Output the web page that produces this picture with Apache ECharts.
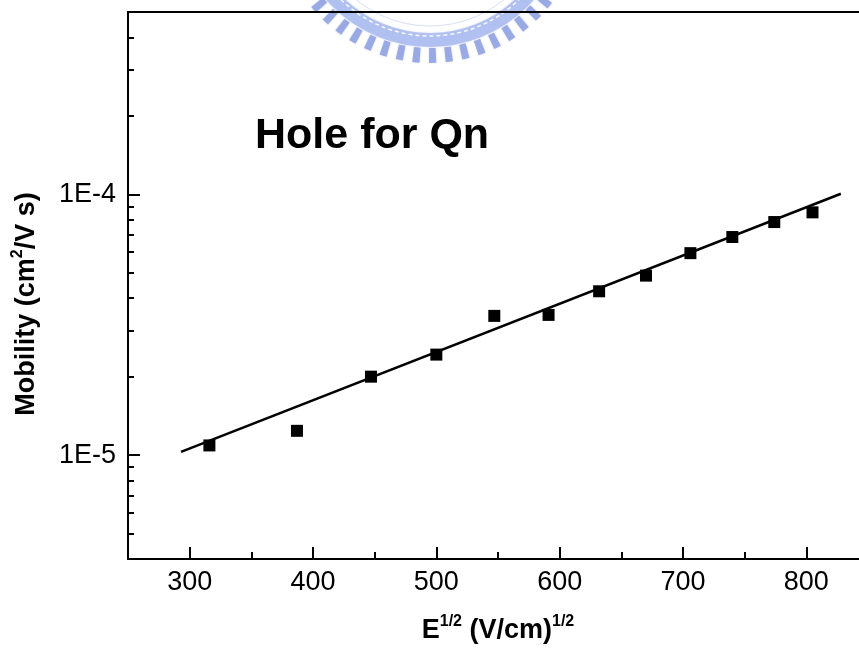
<!DOCTYPE html>
<html><head><meta charset="utf-8">
<script src="https://cdn.jsdelivr.net/npm/echarts@6/dist/echarts.min.js"></script>
<style>html,body{margin:0;padding:0;background:#fff}#c{width:859px;height:651px}</style>
</head><body><div id="c"></div>
<script>
// E^1/2 values (V/cm)^1/2
const fieldX = [316, 387, 447, 500, 547, 591, 632, 670, 706, 740, 774, 805];
// hole mobility (cm^2/V s)
const mobility = [1.09e-5, 1.24e-5, 2.0e-5, 2.43e-5, 3.42e-5, 3.45e-5, 4.25e-5, 4.88e-5, 5.95e-5, 6.86e-5, 7.83e-5, 8.53e-5];
// fitted line end points
const fitX = [293, 828];
const fitY = [1.03e-5, 1.005e-4];
// tick values
const xTickLabels = [300, 400, 500, 600, 700, 800];
const xMinorTicks = [350, 450, 550, 650, 750, 850];
const yTickLabels = [1e-5, 1e-4];
const yMinorTicks = [5e-6, 6e-6, 7e-6, 8e-6, 9e-6, 2e-5, 3e-5, 4e-5, 5e-5, 6e-5, 7e-5, 8e-5, 9e-5, 2e-4, 3e-4, 4e-4];

const FONT = '"Liberation Sans", Arial, sans-serif';
const chart = echarts.init(document.getElementById('c'), null, {renderer: 'canvas'});
const blk = {color: '#000', width: 2};
const xBase = {type: 'value', min: 250, max: 850, splitLine: {show: false}};
const yBase = {type: 'log', logBase: 10, min: 4e-6, max: 5e-4, splitLine: {show: false}};

chart.setOption({
  animation: false,
  backgroundColor: '#fff',
  grid: {left: 128, top: 12, width: 740, height: 547, containLabel: false, outerBoundsMode: 'none'},
  xAxis: [
    Object.assign({}, xBase, {
      position: 'bottom',
      axisLine: {show: true, lineStyle: blk},
      axisTick: {show: true, inside: true, length: 12, lineStyle: blk, customValues: xTickLabels},
      axisLabel: {show: true, customValues: xTickLabels, fontSize: 27, color: '#000', fontFamily: FONT, margin: 10},
      name: '{b|E}{s|1/2}{b| (V/cm)}{s|1/2}',
      nameLocation: 'middle',
      nameGap: 55,
      nameTextStyle: {
        rich: {
          b: {fontSize: 27, fontWeight: 'bold', fontFamily: FONT, color: '#000', lineHeight: 30, verticalAlign: 'bottom'},
          s: {fontSize: 16, fontWeight: 'bold', fontFamily: FONT, color: '#000', lineHeight: 30, verticalAlign: 'top'}
        }
      }
    }),
    Object.assign({}, xBase, {
      position: 'bottom',
      axisLine: {show: false},
      axisTick: {show: true, inside: true, length: 7, lineStyle: blk, customValues: xMinorTicks},
      axisLabel: {show: false}
    }),
    Object.assign({}, xBase, {
      position: 'top',
      axisLine: {show: true, lineStyle: blk},
      axisTick: {show: false},
      axisLabel: {show: false}
    })
  ],
  yAxis: [
    Object.assign({}, yBase, {
      position: 'left',
      axisLine: {show: true, lineStyle: blk},
      axisTick: {show: true, inside: true, length: 12, lineStyle: blk, customValues: yTickLabels},
      axisLabel: {show: true, customValues: yTickLabels, fontSize: 27, color: '#000', fontFamily: FONT, margin: 12,
        formatter: v => '1E' + Math.round(Math.log10(v))}
    }),
    Object.assign({}, yBase, {
      position: 'left',
      axisLine: {show: false},
      axisTick: {show: true, inside: true, length: 6, lineStyle: blk, customValues: yMinorTicks},
      axisLabel: {show: false}
    })
  ],
  graphic: [
    {type: 'circle', z: -10, silent: true, shape: {cx: 430, cy: -91, r: 131},
      style: {fill: 'none', stroke: 'rgba(160,178,236,0.7)', lineWidth: 14, shadowBlur: 2, shadowColor: 'rgba(160,178,236,0.6)'}},
    {type: 'circle', z: -10, silent: true, shape: {cx: 430, cy: -91, r: 146.5},
      style: {fill: 'none', stroke: 'rgba(130,150,222,0.72)', lineWidth: 15, lineDash: [7, 9], shadowBlur: 2, shadowColor: 'rgba(130,150,222,0.5)'}},
    {type: 'circle', z: -9, silent: true, shape: {cx: 430, cy: -91, r: 127},
      style: {fill: 'none', stroke: 'rgba(255,255,255,0.9)', lineWidth: 1.5, lineDash: [4, 3]}},
    {type: 'circle', z: -10, silent: true, shape: {cx: 430, cy: -91, r: 117},
      style: {fill: 'none', stroke: 'rgba(175,190,238,0.5)', lineWidth: 1}},
    {type: 'text', z: 10, left: 255, top: 115,
      style: {text: 'Hole for Qn', font: 'bold 43px ' + FONT, fill: '#000'}},
    {type: 'text', z: 10, x: 25, y: 304, rotation: Math.PI / 2,
      style: {
        text: '{b|Mobility (cm}{s|2}{b|/V s)}',
        align: 'center', verticalAlign: 'middle',
        rich: {
          b: {fontSize: 27, fontWeight: 'bold', fontFamily: FONT, fill: '#000', lineHeight: 30, verticalAlign: 'bottom'},
          s: {fontSize: 16, fontWeight: 'bold', fontFamily: FONT, fill: '#000', lineHeight: 30, verticalAlign: 'top'}
        }
      }}
  ],
  series: [
    {
      type: 'line', xAxisIndex: 0, yAxisIndex: 0,
      data: fitX.map((x, i) => [x, fitY[i]]),
      showSymbol: false, symbol: 'none',
      lineStyle: {color: '#000', width: 2.5},
      silent: true
    },
    {
      type: 'scatter', xAxisIndex: 0, yAxisIndex: 0,
      data: fieldX.map((x, i) => [x, mobility[i]]),
      symbol: 'rect', symbolSize: 12,
      itemStyle: {color: '#000', opacity: 1},
      z: 3
    }
  ]
});
</script></body></html>
